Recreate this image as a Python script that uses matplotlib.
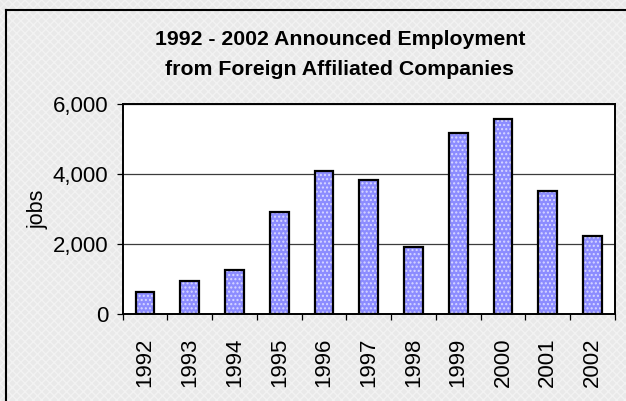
import numpy as np
import matplotlib
matplotlib.use('Agg')
import matplotlib.pyplot as plt
from matplotlib.lines import Line2D

plt.rcParams['font.family'] = ['Liberation Sans', 'DejaVu Sans']

years = ['1992', '1993', '1994', '1995', '1996', '1997',
         '1998', '1999', '2000', '2001', '2002']
jobs = [620, 940, 1260, 2900, 4080, 3830, 1920, 5160, 5570, 3500, 2240]

title = "1992 - 2002 Announced Employment\nfrom Foreign Affiliated Companies"

fig = plt.figure(figsize=(6.26, 4.01), dpi=100)
fig.patch.set_facecolor('#e9e9e9')
fig.patch.set_edgecolor('#f2f2f2')
fig.patch.set_hatch('xxxx')
fig.patch.set_linewidth(0)

# border (only top and left visible in the original crop)
fig.add_artist(Line2D([6 / 626, 6 / 626], [0, 1 - 10 / 401], color='black', lw=1.5,
                      transform=fig.transFigure))
fig.add_artist(Line2D([6 / 626, 1], [1 - 10 / 401, 1 - 10 / 401], color='black', lw=1.5,
                      transform=fig.transFigure))

ax = fig.add_axes([0.196, 0.217, 0.786, 0.524])
ax.set_facecolor('white')

x = np.arange(len(years))
ax.bar(x, jobs, width=0.42, color='#8c8cff', edgecolor='#d8d8ff', hatch='....', linewidth=0, zorder=3)
ax.bar(x, jobs, width=0.42, fill=False, edgecolor='black', linewidth=1.6, zorder=4)

ax.set_xlim(-0.5, len(years) - 0.5)
ax.set_ylim(0, 6000)
ax.set_yticks([0, 2000, 4000, 6000])
ax.set_yticklabels(['0', '2,000', '4,000', '6,000'])
ax.yaxis.grid(True, color='#3c3c3c', linewidth=0.9, zorder=1)

ax.set_xticks(x)
ax.set_xticklabels(years, rotation=90)
ax.set_xticks(np.arange(len(years) + 1) - 0.5, minor=True)
ax.tick_params(axis='x', which='major', length=0, pad=17, labelsize=16)
ax.tick_params(axis='x', which='minor', length=4.5, width=0.9, direction='out')
ax.tick_params(axis='y', length=4.5, width=0.9, direction='out', labelsize=16, pad=6)

for s in ax.spines.values():
    s.set_linewidth(1.4)
    s.set_color('black')

ax.set_ylabel('jobs', fontsize=15.5, labelpad=3)

fig.text(0.543, 0.864, title, ha='center', va='center', fontsize=15.3,
         fontweight='bold', linespacing=1.75)

fig.savefig('out.png', dpi=100, facecolor=fig.get_facecolor())
